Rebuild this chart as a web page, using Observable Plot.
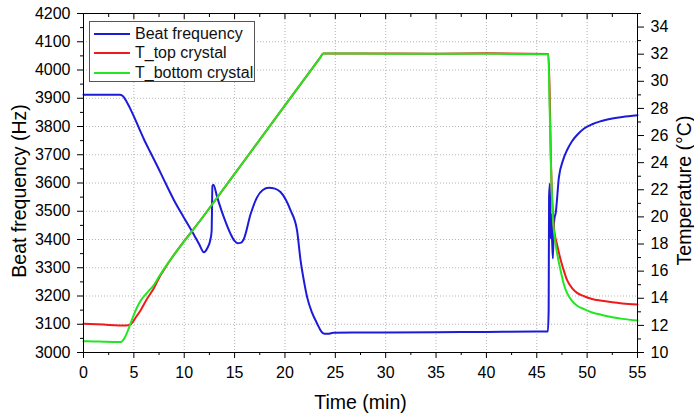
<!DOCTYPE html>
<html><head><meta charset="utf-8">
<script src="https://cdn.jsdelivr.net/npm/d3@7"></script>
<script src="https://cdn.jsdelivr.net/npm/@observablehq/plot@0.6"></script>
<style>
body{margin:0;background:#fff;}
#wrap{position:relative;width:694px;height:417px;font-family:Arial,"Liberation Sans",sans-serif;}
#legend{position:absolute;left:89px;top:21px;width:166px;height:61px;border:1px solid #555;background:#fff;box-sizing:border-box;}
.row{position:absolute;left:0;height:20px;display:flex;align-items:center;font-size:16px;color:#111;white-space:nowrap;}
.sw{width:36px;height:2px;margin-left:4px;margin-right:5px;}
</style></head><body><div id="wrap"><div id="legend"></div></div>
<script>
// ---- data ----
const seriesNames = ["Beat frequency", "T_top crystal", "T_bottom crystal"];
const seriesColors = ["#1c1cd8", "#f01a1a", "#22e622"];

const beatTime = [0,2,3.6,3.9,4.2,4.6,5.0,5.5,6.0,6.65,7.3,8.0,8.97,9.96,10.95,11.5,11.95,12.3,12.6,12.72,12.8,12.9,13.27,13.93,14.6,15.0,15.3,15.6,15.9,16.6,17.24,17.8,18.4,19.0,19.56,20.1,20.56,21.2,21.55,21.9,22.2,22.7,23.2,23.6,23.9,24.3,24.8,30,35,40,45,46.1,46.18,46.22,46.3,46.36,46.43,46.52,46.6,46.68,46.77,46.87,47.2,47.6,48.0,48.5,49.0,49.7,50.5,51.3,52.5,53.5,55];
const beatHz = [3912,3912,3912,3908,3893,3866,3836,3795,3755,3708,3662,3610,3540,3478,3418,3382,3355,3370,3400,3430,3590,3594,3550,3479,3420,3395,3387,3388,3400,3491,3550,3575,3583,3580,3568,3540,3503,3432,3326,3250,3196,3140,3102,3075,3066,3066,3070,3071,3072,3073,3074,3074,3150,3550,3598,3404,3492,3400,3333,3440,3478,3492,3621,3680,3716,3748,3770,3793,3808,3818,3828,3834,3840];

const topTime = [0,2,3.5,4.2,4.67,5.2,5.66,6.3,7.0,7.5,7.9,12,16,20,23.5,23.8,30,35,40,46.15,46.28,46.4,46.55,46.7,47.0,47.35,47.7,48.0,48.5,49.0,49.7,50.5,51.3,52.5,53.5,55];
const topTemp = [12.12,12.06,12.0,12.0,12.08,12.6,13.1,13.95,14.75,15.5,16.0,20.14,24.18,28.22,31.75,32.05,32.05,32.04,32.06,32.02,29.2,24.3,21.0,19.2,18.0,16.9,16.0,15.35,14.75,14.4,14.15,13.95,13.83,13.7,13.62,13.54];

const bottomTime = [0,1,2,3,3.7,4.1,4.5,4.9,5.3,5.7,6.3,7.0,7.5,12,16,20,23.5,23.8,30,35,40,46.15,46.25,46.4,46.55,46.7,47.0,47.35,47.7,48.0,48.5,49.0,49.7,50.5,51.3,52.5,53.5,55];
const bottomTemp = [10.83,10.82,10.8,10.78,10.77,11.1,11.8,12.6,13.3,13.85,14.4,15.0,15.6,20.14,24.18,28.22,31.75,32.05,32.04,32.04,32.03,32.0,29,24,20.6,19.0,17.4,16.1,15.0,14.4,13.8,13.45,13.2,12.95,12.8,12.6,12.48,12.36];

const xMajor = [0,5,10,15,20,25,30,35,40,45,50,55];
const xMinor = [2.5,7.5,12.5,17.5,22.5,27.5,32.5,37.5,42.5,47.5,52.5];
const hzMajor = [3000,3100,3200,3300,3400,3500,3600,3700,3800,3900,4000,4100,4200];
const hzMinor = [3050,3150,3250,3350,3450,3550,3650,3750,3850,3950,4050,4150];
const tempMajor = [10,12,14,16,18,20,22,24,26,28,30,32,34];
const tempMinor = [11,13,15,17,19,21,23,25,27,29,31,33,35];

// right axis (°C) spans 10..35 over the same height as 3000..4200 Hz
const toHz = t => 3000 + (t - 10) * 48;
const fromHz = h => 10 + (h - 3000) / 48;

const beat = beatTime.map((t, i) => ({t, v: beatHz[i]}));
const tTop = topTime.map((t, i) => ({t, v: toHz(topTemp[i])}));
const tBottom = bottomTime.map((t, i) => ({t, v: toHz(bottomTemp[i])}));

const font = "Arial, 'Liberation Sans', sans-serif";
const grid = {stroke: "#b4b4b4", strokeOpacity: 1, strokeDasharray: "1,2", strokeWidth: 1};
const blank = () => "";

const chart = Plot.plot({
  width: 694, height: 417,
  marginLeft: 83, marginRight: 57, marginTop: 13, marginBottom: 65,
  x: {domain: [0, 55]},
  y: {domain: [3000, 4200]},
  style: {fontFamily: font, fontSize: "16px", color: "#000", background: "#fff"},
  marks: [
    Plot.gridX({ticks: xMajor.slice(1, -1), ...grid}),
    Plot.gridY({ticks: hzMajor.slice(1, -1), ...grid}),
    Plot.line(beat, {x: "t", y: "v", stroke: seriesColors[0], strokeWidth: 2, curve: "monotone-x"}),
    Plot.line(tTop, {x: "t", y: "v", stroke: seriesColors[1], strokeWidth: 2, curve: "monotone-x"}),
    Plot.line(tBottom, {x: "t", y: "v", stroke: seriesColors[2], strokeWidth: 2, curve: "monotone-x"}),
    Plot.frame({stroke: "#000", strokeWidth: 1}),
    Plot.axisX({ticks: xMajor, tickSize: 6, tickPadding: 8, fontSize: 16, label: null, tickFormat: d => String(d)}),
    Plot.axisX({ticks: xMinor, tickSize: 3, tickFormat: blank, label: null}),
    Plot.axisX({anchor: "top", ticks: xMajor, tickSize: 5, dy: 5, tickFormat: blank, label: null}),
    Plot.axisX({anchor: "top", ticks: xMinor, tickSize: 3, dy: 3, tickFormat: blank, label: null}),
    Plot.axisY({ticks: hzMajor, tickSize: 6, tickPadding: 7, fontSize: 16, label: null, tickFormat: d => String(d)}),
    Plot.axisY({ticks: hzMinor, tickSize: 3, tickFormat: blank, label: null}),
    Plot.axisY({anchor: "right", ticks: tempMajor.map(toHz), tickSize: 6, tickPadding: 7, fontSize: 16, label: null, tickFormat: d => String(Math.round(fromHz(d)))}),
    Plot.axisY({anchor: "right", ticks: tempMinor.map(toHz), tickSize: 3, tickFormat: blank, label: null}),
    Plot.text(["Time (min)"], {text: d => d, frameAnchor: "bottom", textAnchor: "middle", lineAnchor: "middle", dy: 50, fontSize: 19.5, fill: "#000"}),
    Plot.text(["Beat frequency (Hz)"], {text: d => d, frameAnchor: "left", textAnchor: "middle", lineAnchor: "middle", rotate: -90, dx: -64, dy: 8, fontSize: 19.5, fill: "#000"}),
    Plot.text(["Temperature (°C)"], {text: d => d, frameAnchor: "right", textAnchor: "middle", lineAnchor: "middle", rotate: -90, dx: 47, dy: 7.5, fontSize: 19.5, fill: "#000"})
  ]
});
const wrap = document.getElementById("wrap");
wrap.insertBefore(chart, wrap.firstChild);

// legend
const legend = document.getElementById("legend");
seriesNames.forEach((name, i) => {
  const row = document.createElement("div");
  row.className = "row";
  row.style.top = (1.5 + i * 19.7) + "px";
  const sw = document.createElement("div");
  sw.className = "sw";
  sw.style.background = seriesColors[i];
  const label = document.createElement("span");
  label.textContent = name;
  row.appendChild(sw);
  row.appendChild(label);
  legend.appendChild(row);
});
</script>
</body></html>
